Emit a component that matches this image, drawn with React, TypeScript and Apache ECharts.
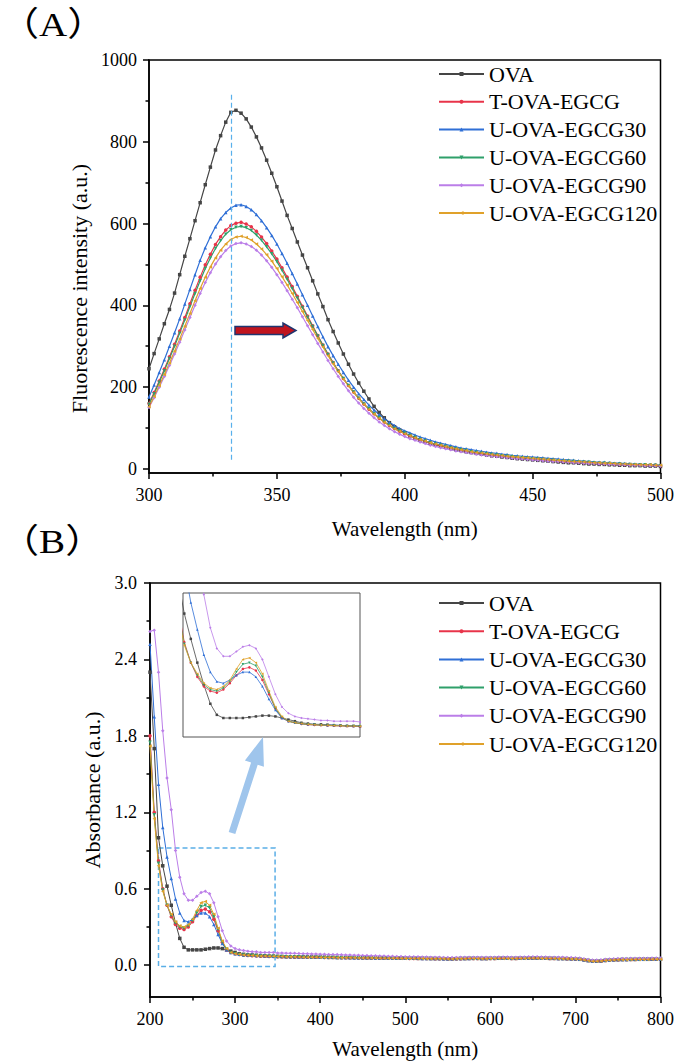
import React, { useEffect, useRef } from "react";
import * as echarts from "echarts";

const seriesNames = ["OVA", "T-OVA-EGCG", "U-OVA-EGCG30", "U-OVA-EGCG60", "U-OVA-EGCG90", "U-OVA-EGCG120"];
const colors = ["#454545", "#e8344a", "#2f6fd6", "#2fa06a", "#bb7ee8", "#e0a12a"];
const symbols = ["rect", "circle", "triangle", "triangle", "diamond", "triangle"];
const symbolRotates = [0, 0, 0, 180, 0, 90];

// Panel A: fluorescence, 300..500 nm, 2 nm step
const fluoWavelength = Array.from({ length: 101 }, (_, i) => 300 + 2 * i);
const fluoOVA = [245,282,318,355,390,430,475,520,563,607,651,695,738,780,815,848,872,877,
870,856,836,812,785,755,723,690,655,620,588,555,523,492,460,428,397,365,336,308,281,256,232,210,190,171,153,138,125,113,103,95,88,
81,76,71,67,63,59,56,53,50,47,45,42,40,38,36,34,32,31,29,28,26,25,24,23,22,21,20,19,18,17,16,15,15,14,13,12,12,11,11,10,10,9,9,8,8,8,7,7,7,6];
const fluoT = [160,187,215,244,274,305,337,370,404,437,469,499,525,549,568,584,595,601,
603,599,592,581,567,551,533,513,492,469,446,422,398,374,350,326,303,281,260,240,221,204,188,173,159,146,135,124,115,106,99,92,86,
81,76,72,68,64,61,57,54,52,49,47,44,42,40,38,37,35,33,32,31,29,28,27,26,25,24,23,22,21,20,19,18,18,17,16,15,15,14,13,13,12,12,11,11,10,10,9,9,9,8];
const fluoU30 = [176,205,236,267,300,333,367,403,439,475,510,541,568,592,612,627,638,645,
646,642,634,622,607,590,571,550,527,503,478,452,426,400,374,348,323,299,277,256,236,217,200,184,170,156,144,133,123,114,106,99,93,
88,83,78,74,70,66,63,60,57,54,51,49,47,45,43,41,39,38,36,35,33,32,31,30,29,28,27,26,25,24,23,22,21,20,19,18,17,16,16,15,14,14,13,12,12,11,11,10,10,9];
const fluoU60 = [158,184,212,240,270,300,332,364,397,429,460,490,516,539,558,574,585,591,
593,590,583,572,559,543,526,507,486,464,441,418,395,371,348,325,302,280,259,239,221,204,188,173,159,147,135,125,115,107,99,93,87,
82,77,72,68,64,61,58,55,52,49,47,45,42,40,38,37,35,34,32,31,30,28,27,26,25,24,23,22,21,20,19,19,18,17,16,16,15,14,14,13,12,12,11,11,10,10,10,9,9,8];
const fluoU90 = [150,174,200,226,253,281,310,340,370,400,429,456,480,501,519,534,545,551,
553,550,544,535,523,509,493,475,456,436,415,394,372,350,328,307,286,265,245,226,208,191,175,161,148,136,125,115,106,98,91,85,79,
74,70,66,62,58,55,52,49,47,44,42,40,38,36,34,33,31,30,29,27,26,25,24,23,22,21,20,19,18,18,17,16,15,15,14,13,13,12,12,11,11,10,10,9,9,9,8,8,8,7];
const fluoU120 = [152,177,204,231,259,288,318,349,380,411,441,469,494,516,535,550,561,567,
569,566,560,550,538,524,508,490,470,450,429,407,385,363,341,319,298,277,257,238,220,203,187,172,158,146,134,124,114,106,98,92,86,
81,76,72,68,64,61,58,55,52,49,47,45,42,40,39,37,35,34,33,31,30,29,28,27,26,25,24,23,22,21,20,19,18,18,17,16,15,15,14,14,13,12,12,11,11,10,10,10,9,9];

// Panel B: absorbance, 200..800 nm, 5 nm step
const absWavelength = Array.from({ length: 121 }, (_, i) => 200 + 5 * i);
const absOVA = [2.30,1.70,1.00,0.78,0.62,0.47,0.33,0.21,0.14,0.12,0.12,0.12,0.12,0.125,0.13,0.135,0.135,0.13,0.12,0.11,0.10,0.09,0.085,0.08,0.08,0.078,0.075,0.073,0.07,0.07,0.068,
0.067,0.066,0.066,0.065,0.065,0.064,0.064,0.063,0.063,0.062,
0.062,0.061,0.061,0.060,0.060,0.060,0.059,0.059,0.058,0.058,
0.058,0.057,0.057,0.056,0.056,0.056,0.055,0.055,0.055,0.054,
0.054,0.054,0.053,0.053,0.053,0.052,0.052,0.052,0.051,0.050,
0.050,0.051,0.052,0.052,0.053,0.053,0.053,0.052,0.052,0.053,
0.053,0.054,0.054,0.054,0.053,0.053,0.054,0.054,0.055,0.055,
0.055,0.054,0.054,0.053,0.053,0.052,0.052,0.051,0.050,0.049,
0.046,0.042,0.036,0.032,0.031,0.033,0.037,0.040,0.042,0.043,
0.044,0.044,0.045,0.045,0.046,0.046,0.046,0.047,0.047,0.047];
const absT = [1.80,1.20,0.82,0.60,0.47,0.38,0.32,0.29,0.28,0.30,0.34,0.39,0.43,0.44,0.42,0.36,0.27,0.18,0.12,0.10,0.09,0.083,0.078,0.076,0.074,0.072,0.071,0.07,0.069,0.068,0.067,
0.066,0.066,0.065,0.065,0.064,0.064,0.063,0.063,0.062,0.062,
0.061,0.061,0.060,0.060,0.059,0.059,0.058,0.058,0.058,0.057,
0.057,0.056,0.056,0.056,0.055,0.055,0.055,0.054,0.054,0.054,
0.053,0.053,0.053,0.052,0.052,0.052,0.051,0.051,0.050,0.050,
0.050,0.051,0.051,0.052,0.052,0.053,0.053,0.052,0.052,0.053,
0.053,0.054,0.054,0.054,0.053,0.053,0.054,0.054,0.055,0.055,
0.055,0.054,0.054,0.053,0.053,0.052,0.052,0.051,0.050,0.049,
0.046,0.042,0.036,0.032,0.031,0.033,0.037,0.040,0.042,0.043,
0.044,0.044,0.045,0.045,0.046,0.046,0.046,0.047,0.047,0.047];
const absU30 = [2.52,1.95,1.42,1.08,0.85,0.68,0.52,0.41,0.35,0.34,0.36,0.39,0.41,0.41,0.38,0.32,0.24,0.17,0.12,0.10,0.09,0.085,0.08,0.08,0.078,0.075,0.075,0.073,0.072,0.07,0.07,
0.069,0.068,0.068,0.067,0.066,0.066,0.065,0.064,0.064,0.063,
0.063,0.062,0.062,0.061,0.061,0.060,0.060,0.059,0.059,0.058,
0.058,0.058,0.057,0.057,0.056,0.056,0.056,0.055,0.055,0.055,
0.054,0.054,0.054,0.053,0.053,0.052,0.052,0.052,0.051,0.051,
0.051,0.052,0.052,0.053,0.053,0.054,0.054,0.053,0.053,0.054,
0.054,0.055,0.055,0.055,0.054,0.054,0.055,0.055,0.056,0.056,
0.056,0.055,0.055,0.054,0.054,0.053,0.053,0.052,0.051,0.050,
0.047,0.043,0.037,0.033,0.032,0.034,0.038,0.041,0.043,0.044,
0.045,0.045,0.046,0.046,0.047,0.047,0.047,0.048,0.048,0.048];
const absU60 = [1.75,1.18,0.80,0.59,0.47,0.39,0.33,0.30,0.29,0.31,0.35,0.41,0.46,0.47,0.45,0.38,0.28,0.18,0.125,0.10,0.09,0.084,0.079,0.077,0.075,0.073,0.072,0.071,0.07,0.069,0.068,
0.067,0.066,0.066,0.065,0.065,0.064,0.063,0.063,0.062,0.062,
0.061,0.061,0.060,0.060,0.059,0.059,0.059,0.058,0.058,0.057,
0.057,0.057,0.056,0.056,0.055,0.055,0.055,0.054,0.054,0.054,
0.053,0.053,0.053,0.052,0.052,0.052,0.051,0.051,0.050,0.050,
0.050,0.051,0.052,0.052,0.052,0.053,0.053,0.052,0.052,0.053,
0.053,0.053,0.054,0.054,0.053,0.053,0.054,0.054,0.054,0.055,
0.055,0.054,0.054,0.053,0.053,0.052,0.051,0.051,0.050,0.049,
0.046,0.041,0.036,0.032,0.031,0.033,0.037,0.040,0.042,0.043,
0.044,0.044,0.045,0.045,0.045,0.046,0.046,0.046,0.047,0.047];
const absU90 = [2.62,2.63,2.30,1.84,1.47,1.22,0.90,0.69,0.56,0.51,0.51,0.54,0.57,0.58,0.56,0.49,0.38,0.27,0.19,0.15,0.13,0.12,0.115,0.11,0.105,0.105,0.10,0.10,0.10,0.10,0.095,
0.095,0.094,0.093,0.093,0.091,0.090,0.090,0.088,0.087,0.086,
0.085,0.084,0.083,0.083,0.081,0.080,0.079,0.078,0.078,0.076,
0.075,0.074,0.074,0.072,0.071,0.070,0.069,0.068,0.067,0.066,
0.066,0.065,0.065,0.064,0.064,0.063,0.063,0.062,0.061,0.060,
0.060,0.061,0.062,0.062,0.063,0.063,0.063,0.062,0.062,0.063,
0.063,0.064,0.064,0.064,0.063,0.063,0.064,0.064,0.065,0.065,
0.065,0.064,0.064,0.063,0.063,0.062,0.062,0.061,0.060,0.059,
0.056,0.051,0.045,0.041,0.040,0.042,0.046,0.049,0.051,0.052,
0.053,0.053,0.054,0.054,0.055,0.055,0.055,0.056,0.056,0.056];
const absU120 = [1.72,1.15,0.78,0.58,0.47,0.40,0.34,0.31,0.30,0.32,0.36,0.43,0.49,0.50,0.47,0.40,0.29,0.19,0.13,0.10,0.09,0.085,0.08,0.078,0.076,0.074,0.072,0.071,0.07,0.069,0.068,
0.067,0.066,0.065,0.065,0.064,0.063,0.063,0.062,0.062,0.061,
0.061,0.060,0.060,0.059,0.059,0.058,0.058,0.058,0.057,0.057,
0.056,0.056,0.056,0.055,0.055,0.054,0.054,0.054,0.053,0.053,
0.053,0.052,0.052,0.052,0.051,0.051,0.051,0.050,0.050,0.049,
0.049,0.050,0.051,0.051,0.052,0.052,0.052,0.051,0.051,0.052,
0.052,0.053,0.053,0.053,0.052,0.052,0.053,0.053,0.054,0.054,
0.054,0.053,0.053,0.052,0.052,0.051,0.051,0.050,0.049,0.048,
0.045,0.041,0.035,0.031,0.030,0.032,0.036,0.039,0.041,0.042,
0.043,0.043,0.044,0.044,0.045,0.045,0.045,0.046,0.046,0.046];

const fluoSeries = [fluoOVA, fluoT, fluoU30, fluoU60, fluoU90, fluoU120];
const absSeries = [absOVA, absT, absU30, absU60, absU90, absU120];

// Axis tick values
const fluoMajorTicks = [0, 200, 400, 600, 800, 1000];
const fluoMinorTicks = [100, 300, 500, 700, 900];
const absMajorTicks = [0, 0.6, 1.2, 1.8, 2.4, 3.0];
const absMinorTicks = [0.3, 0.9, 1.5, 2.1, 2.7];

// Annotations (data coordinates)
const peakWavelength = 332.3;
const peakLineRange = [915, 18];
const zoomBox = { x0: 210, x1: 347, y0: -0.01, y1: 0.92 };
const insetRange = { xMin: 214, xMax: 350, yMin: 0, yMax: 0.91 };

const FONT = "Liberation Serif, serif";

function buildOption() {
  const tickLabel = { fontFamily: FONT, fontSize: 18, color: "#000" };
  const nameStyle = { fontFamily: FONT, fontSize: 21, color: "#000" };
  const axisLine = { show: true, onZero: false, lineStyle: { color: "#000", width: 1.5 } };

  const makeSeries = (xs: number[], vals: number[], i: number, xIdx: number, yIdx: number, size: number, lw: number, extra: any = {}) => ({
    type: "line",
    name: seriesNames[i],
    xAxisIndex: xIdx,
    yAxisIndex: yIdx,
    data: xs.map((x, j) => [x, vals[j]]),
    symbol: symbols[i],
    symbolRotate: symbolRotates[i],
    symbolSize: size,
    showSymbol: true,
    showAllSymbol: true,
    clip: true,
    z: 3,
    lineStyle: { color: colors[i], width: lw },
    itemStyle: { color: colors[i] },
    emphasis: { disabled: true },
    silent: true,
    ...extra,
  });

  const series: any[] = [];
  fluoSeries.forEach((vals, i) => {
    const extra =
      i === 0
        ? {
            markLine: {
              silent: true,
              symbol: ["none", "none"],
              label: { show: false },
              lineStyle: { type: [5, 3], color: "#58b0ec", width: 1.2 },
              data: [[{ coord: [peakWavelength, peakLineRange[0]] }, { coord: [peakWavelength, peakLineRange[1]] }]],
            },
          }
        : {};
    series.push(makeSeries(fluoWavelength, vals, i, 0, 0, 3.5, 1.2, extra));
  });
  absSeries.forEach((vals, i) => {
    const extra =
      i === 0
        ? {
            markArea: {
              silent: true,
              itemStyle: { color: "rgba(0,0,0,0)", borderColor: "#5aaee6", borderWidth: 1.5, borderType: [5, 3] },
              data: [[{ coord: [zoomBox.x0, zoomBox.y1] }, { coord: [zoomBox.x1, zoomBox.y0] }]],
            },
          }
        : {};
    series.push(makeSeries(absWavelength, vals, i, 1, 2, 3.5, 1, extra));
  });
  absSeries.forEach((vals, i) => {
    series.push(makeSeries(absWavelength, vals, i, 2, 4, 2.5, 0.8));
  });

  const legendBase = {
    orient: "vertical",
    left: 433,
    itemWidth: 45,
    itemHeight: 5,
    selectedMode: false,
    data: seriesNames,
    textStyle: { fontFamily: FONT, fontSize: 22, color: "#000", lineHeight: 20 },
  };

  const arrowRed = [[235, 326.5], [283, 326.5], [283, 323], [296, 330.5], [283, 338], [283, 334.5], [235, 334.5]];
  const arrowBlue = [[228.7, 831.9], [251.1, 762.5], [244.9, 760.5], [263, 737], [263.9, 766.7], [257.7, 764.7], [235.3, 834.1]];

  return {
    animation: false,
    backgroundColor: "#fff",
    grid: [
      { left: 149, top: 60, width: 514, height: 413, show: true, borderColor: "#000", borderWidth: 1.5, backgroundColor: "transparent" },
      { left: 150, top: 583, width: 514, height: 414, show: true, borderColor: "#000", borderWidth: 1.5, backgroundColor: "transparent" },
      { left: 183, top: 593, width: 177, height: 144, show: true, borderColor: "#555", borderWidth: 1, backgroundColor: "#fff" },
    ],
    xAxis: [
      {
        type: "value", gridIndex: 0, min: 300, max: 500, interval: 50,
        axisLine, axisTick: { show: true, length: 6, lineStyle: { color: "#000", width: 1.5 } },
        minorTick: { show: true, splitNumber: 2, length: 3.5, lineStyle: { color: "#000", width: 1.5 } },
        axisLabel: { ...tickLabel, margin: 13 },
        splitLine: { show: false },
        name: "Wavelength (nm)", nameLocation: "middle", nameGap: 45, nameTextStyle: nameStyle,
      },
      {
        type: "value", gridIndex: 1, min: 200, max: 800, interval: 100,
        axisLine, axisTick: { show: true, length: 6, lineStyle: { color: "#000", width: 1.5 } },
        minorTick: { show: true, splitNumber: 2, length: 3.5, lineStyle: { color: "#000", width: 1.5 } },
        axisLabel: { ...tickLabel, margin: 13 },
        splitLine: { show: false },
        name: "Wavelength (nm)", nameLocation: "middle", nameGap: 41, nameTextStyle: nameStyle,
      },
      {
        type: "value", gridIndex: 2, min: insetRange.xMin, max: insetRange.xMax, show: false,
        splitLine: { show: false },
      },
    ],
    yAxis: [
      {
        type: "value", gridIndex: 0, min: -10, max: 1000,
        axisLine,
        axisTick: { show: true, length: 6, customValues: fluoMajorTicks, lineStyle: { color: "#000", width: 1.5 } },
        axisLabel: { ...tickLabel, margin: 12, customValues: fluoMajorTicks, formatter: (v: number) => String(v) },
        splitLine: { show: false },
        name: "Fluorescence intensity (a.u.)", nameLocation: "middle", nameGap: 36,
        nameTextStyle: { ...nameStyle, fontSize: 22, padding: [0, 44, 0, 0] },
      },
      {
        type: "value", gridIndex: 0, min: -10, max: 1000, position: "left",
        axisLine: { show: false },
        axisTick: { show: true, length: 3.5, customValues: fluoMinorTicks, lineStyle: { color: "#000", width: 1.5 } },
        axisLabel: { show: false },
        splitLine: { show: false },
      },
      {
        type: "value", gridIndex: 1, min: -0.25, max: 3.0,
        axisLine,
        axisTick: { show: true, length: 6, customValues: absMajorTicks, lineStyle: { color: "#000", width: 1.5 } },
        axisLabel: { ...tickLabel, margin: 13, customValues: absMajorTicks, formatter: (v: number) => v.toFixed(1) },
        splitLine: { show: false },
        name: "Absorbance (a.u.)", nameLocation: "middle", nameGap: 33, nameTextStyle: { ...nameStyle, fontSize: 22 },
      },
      {
        type: "value", gridIndex: 1, min: -0.25, max: 3.0, position: "left",
        axisLine: { show: false },
        axisTick: { show: true, length: 3.5, customValues: absMinorTicks, lineStyle: { color: "#000", width: 1.5 } },
        axisLabel: { show: false },
        splitLine: { show: false },
      },
      {
        type: "value", gridIndex: 2, min: insetRange.yMin, max: insetRange.yMax, show: false,
        splitLine: { show: false },
      },
    ],
    legend: [
      { ...legendBase, top: 58, itemGap: 5.8 },
      { ...legendBase, top: 587, itemGap: 6.2 },
    ],
    series,
    graphic: [
      { type: "text", x: 0, y: 24, scaleX: 1.15, style: { text: "（A）", font: "34px Liberation Serif, Noto Sans CJK SC", fill: "#000", verticalAlign: "middle" } },
      { type: "text", x: 0, y: 541, scaleX: 1.15, style: { text: "（B）", font: "34px Liberation Serif, Noto Sans CJK SC", fill: "#000", verticalAlign: "middle" } },
      { type: "polygon", z: 100, shape: { points: arrowRed }, style: { fill: "#c0141e", stroke: "#1f3570", lineWidth: 1.5 } },
      { type: "polygon", z: 100, shape: { points: arrowBlue }, style: { fill: "#9fc5ec", stroke: "none" } },
    ],
  };
}

export default function App() {
  const ref = useRef<HTMLDivElement>(null);
  useEffect(() => {
    if (!ref.current) return;
    const chart = echarts.init(ref.current, undefined, { renderer: "svg" });
    chart.setOption(buildOption() as any);
    return () => chart.dispose();
  }, []);
  return <div ref={ref} style={{ position: "absolute", left: 0, top: 0, width: 677, height: 1062 }} />;
}
